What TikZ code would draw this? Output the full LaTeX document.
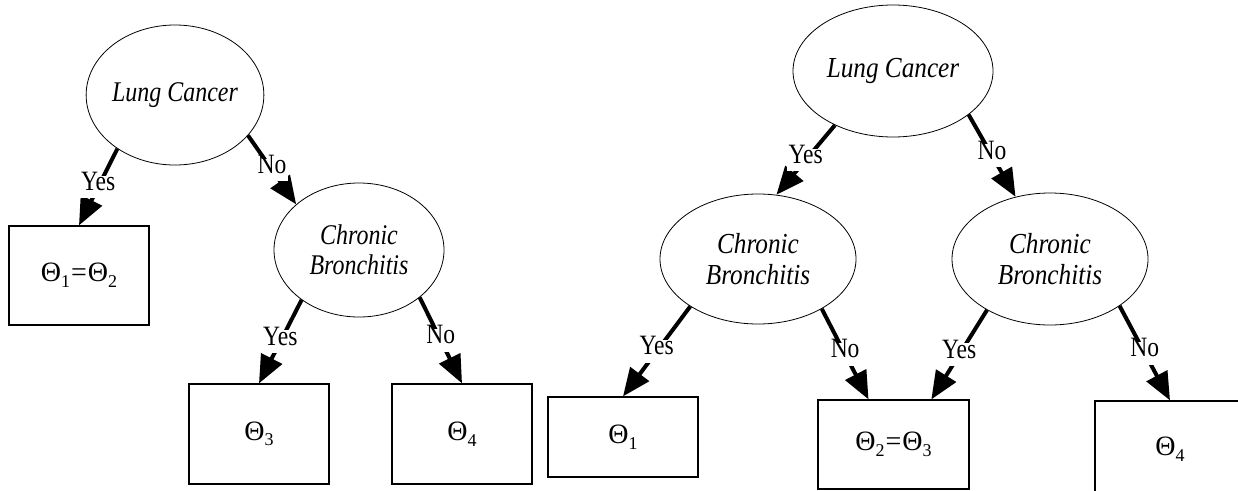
\documentclass[tikz,border=0pt]{standalone}
\usepackage{fontspec}
\setmainfont{Liberation Serif}
\newfontfamily\narrowA{Liberation Serif}[FakeStretch=0.84]
\newfontfamily\narrowB{Liberation Serif}[FakeStretch=0.87]
\usetikzlibrary{shapes.geometric,arrows.meta}

% Theta with a lowered index
\newcommand\Tsub[1]{\raisebox{-0.2em}{\fontsize{18}{18}\selectfont #1}}
\newcommand\Th[1]{Θ\Tsub{#1}}
\newcommand\eqsign{\hspace{1pt}=\hspace{1pt}}

\tikzset{
  chance/.style={ellipse, draw, line width=0.8pt, inner sep=0pt, align=center},
  chanceA/.style={chance, font=\narrowA\fontsize{28.5}{30}\selectfont\itshape},
  chanceB/.style={chance, font=\narrowB\fontsize{29}{31}\selectfont\itshape},
  leaf/.style={rectangle, draw, line width=1.2pt, inner sep=0pt,
    font=\fontsize{28}{30}\selectfont},
  branch/.style={line width=4pt, -{Triangle[length=28pt,width=23pt]}},
  lbl/.style={fill=white, inner xsep=2pt, inner ysep=8pt, text height=0.68em,
    text depth=0pt, font=\narrowA\fontsize{28}{30}\selectfont}
}

\begin{document}
\begin{tikzpicture}[x=1pt, y=-1pt]
\useasboundingbox (0,0) rectangle (1238,490);

% ---- first tree ----
\node[chanceA, minimum width=176pt, minimum height=140pt] (lcA) at (175,95) {Lung Cancer};
\node[chanceA, minimum width=170pt, minimum height=134pt] (cbA) at (359,250) {Chronic\\Bronchitis};
\node[leaf, minimum width=140pt, minimum height=99pt] (bA12) at (79,275.5) {\Th{1}\eqsign\Th{2}};
\node[leaf, minimum width=140pt, minimum height=100pt] (bA3) at (259,434) {\Th{3}};
\node[leaf, minimum width=140pt, minimum height=100pt] (bA4) at (462,434) {\Th{4}};

\draw[branch] (lcA.223) -- node[lbl]{Yes} (bA12.north);
\draw[branch] (lcA.331) -- node[lbl]{No} (cbA.144);
\draw[branch] (cbA.221) -- node[lbl]{Yes} (bA3.north);
\draw[branch] (cbA.322) -- node[lbl]{No} (bA4.north);

% ---- second tree ----
\node[chanceB, minimum width=200pt, minimum height=132pt] (lcB) at (893,71) {Lung Cancer};
\node[chanceB, minimum width=196pt, minimum height=130pt] (cbB1) at (758,259) {Chronic\\Bronchitis};
\node[chanceB, minimum width=196pt, minimum height=132pt] (cbB2) at (1050,259) {Chronic\\Bronchitis};
\node[leaf, minimum width=150pt, minimum height=80pt] (bB1) at (623,437) {\Th{1}};
\node[leaf, minimum width=151pt, minimum height=89pt] (bB23) at (893.5,444.5) {\Th{2}\eqsign\Th{3}};
\node[leaf, minimum width=150pt, minimum height=96pt] (bB4) at (1170,449) {\Th{4}};

\draw[branch] (lcB.223) -- node[lbl]{Yes} (cbB1.74);
\draw[branch] (lcB.330) -- node[lbl]{No} (cbB2.119);
\draw[branch] (cbB1.215) -- node[lbl]{Yes} (bB1.north);
\draw[branch] (cbB1.322) -- node[lbl]{No} (bB23.119);
\draw[branch] (cbB2.219) -- node[lbl]{Yes} (bB23.50);
\draw[branch] (cbB2.326) -- node[lbl]{No} (bB4.north);
\end{tikzpicture}
\end{document}
